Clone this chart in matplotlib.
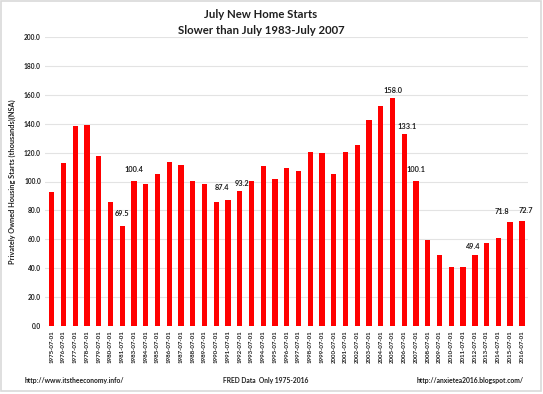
import matplotlib
matplotlib.use("Agg")
import matplotlib.pyplot as plt
from matplotlib.patches import Rectangle

years = [1975, 1976, 1977, 1978, 1979, 1980, 1981, 1983, 1984, 1985, 1986, 1987,
         1988, 1989, 1990, 1991, 1992, 1993, 1994, 1995, 1996, 1997, 1998, 1999,
         2000, 2001, 2002, 2003, 2004, 2005, 2006, 2007, 2008, 2009, 2010, 2011,
         2012, 2013, 2014, 2015, 2016]
starts = [92.8, 112.9, 138.2, 139.1, 117.7, 85.7, 69.5, 100.4, 98.1, 105.5, 113.6, 111.7,
          100.2, 98.1, 85.7, 87.4, 93.2, 100.4, 110.6, 102.0, 109.0, 107.3, 120.5, 120.0,
          105.3, 120.5, 125.3, 142.8, 152.5, 158.0, 133.1, 100.1, 59.6, 49.0, 40.5, 41.0,
          49.4, 57.6, 61.2, 71.8, 72.7]
tick_labels = [f"{y}-07-01" for y in years]
labeled_years = [1981, 1983, 1991, 1992, 2005, 2006, 2007, 2012, 2015, 2016]
yticks = [0, 20, 40, 60, 80, 100, 120, 140, 160, 180, 200]

# label offsets in points (dx, dy) -- style only
label_offsets = {1981: (0, 6), 1983: (0, 6), 1991: (-4, 6), 1992: (2, 3), 2005: (0, 3),
                 2006: (2, 3), 2007: (0, 6), 2012: (-1, 3), 2015: (-6, 5), 2016: (3, 5)}

FONT = "Lato"
TXT = "#1f1f1f"

fig = plt.figure(figsize=(5.43, 3.94), dpi=100)
ax = fig.add_axes([45 / 543, 1 - 326 / 394, (528 - 45) / 543, (326 - 37) / 394])

x = list(range(len(years)))
ax.bar(x, starts, width=0.45, color="#ff0000", zorder=3)

ax.set_ylim(0, 200)
ax.set_xlim(-0.57, len(years) - 1 + 0.52)
ax.set_yticks(yticks)
ax.set_yticklabels([f"{v:.1f}" for v in yticks], fontsize=4.8, fontweight="bold",
                   color=TXT, family=FONT)
ax.set_xticks(x)
ax.set_xticklabels(tick_labels, rotation=90, fontsize=4.4, fontweight="bold",
                   color=TXT, family=FONT)
ax.tick_params(axis="both", length=0, pad=3)
ax.grid(axis="y", color="#e3e3e3", linewidth=0.8, zorder=0)
for s in ax.spines.values():
    s.set_visible(False)

ax.set_ylabel("Privately Owned Housing Starts (thousands)(NSA)", fontsize=5.3,
              fontweight="bold", color=TXT, family=FONT, labelpad=6)

for i, (yr, v) in enumerate(zip(years, starts)):
    if yr in labeled_years:
        dx, dy = label_offsets[yr]
        ax.annotate(f"{v:.1f}", (i, v), xytext=(dx, dy), textcoords="offset points",
                    ha="center", va="bottom", fontsize=5.3, fontweight="bold",
                    color=TXT, family=FONT, zorder=4)

fig.text(261 / 543, 1 - 15 / 394, "July New Home Starts", ha="center", va="center",
         fontsize=8.2, fontweight="bold", color=TXT, family=FONT)
fig.text(261 / 543, 1 - 30 / 394, "Slower than July 1983-July 2007", ha="center",
         va="center", fontsize=8.2, fontweight="bold", color=TXT, family=FONT)

fig.text(25 / 543, 1 - 380 / 394, "http://www.itstheeconomy.info/", ha="left",
         va="center", fontsize=4.9, fontweight="bold", color=TXT, family=FONT)
fig.text(266 / 543, 1 - 380 / 394, "FRED Data  Only 1975-2016", ha="center",
         va="center", fontsize=4.9, fontweight="bold", color=TXT, family=FONT)
fig.text(524 / 543, 1 - 380 / 394, "http://anxietea2016.blogspot.com/", ha="right",
         va="center", fontsize=4.9, fontweight="bold", color=TXT, family=FONT)

fig.patches.append(Rectangle((1 / 543, 3 / 394), 540 / 543, 390 / 394,
                             transform=fig.transFigure, fill=False,
                             edgecolor="#d9d9d9", linewidth=1.2))

fig.savefig("out.png", dpi=100)
